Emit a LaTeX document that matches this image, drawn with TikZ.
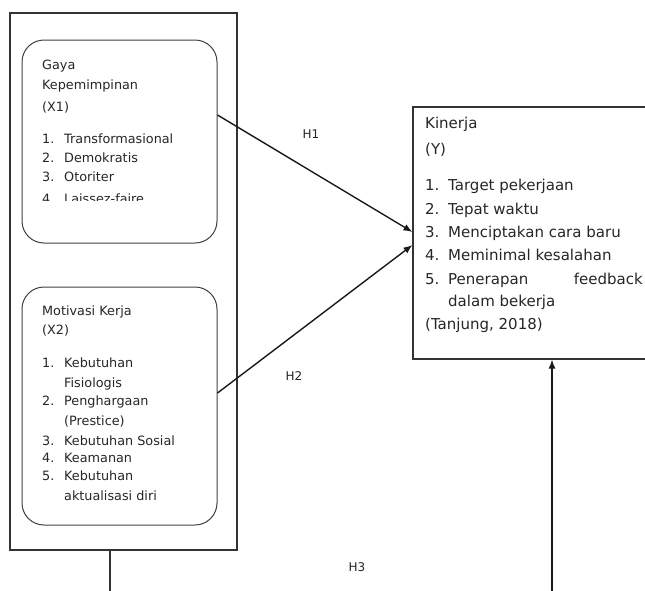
\documentclass[tikz,border=0pt]{standalone}
\usepackage{fontspec}
\setmainfont{DejaVu Sans}
\usetikzlibrary{arrows.meta,calc}
\begin{document}
\begin{tikzpicture}[x=1pt,y=-1pt,
  sbox/.style={draw=black!80,line width=1.1pt,inner sep=0pt},
  rbox/.style={draw=black!75,line width=1pt,rounded corners=22pt,inner sep=0pt},
  ltext/.style={anchor=mid west,inner sep=0pt,font=\fontsize{12.8}{15}\selectfont,text=black!85},
  rtext/.style={anchor=mid west,inner sep=0pt,font=\fontsize{15}{18}\selectfont,text=black!85},
  hlab/.style={inner sep=0pt,font=\fontsize{12}{14}\selectfont,text=black!85},
  conn/.style={line width=1.4pt,draw=black!90,-{Latex[length=9pt,width=7pt]}},
  plainline/.style={line width=1.1pt,draw=black!80}]
\clip (0,0) rectangle (645,590);
% boxes
\node[sbox,minimum width=227pt,minimum height=537pt] (outer) at (123.5,281.5) {};
\node[rbox,minimum width=195pt,minimum height=203pt] (b1) at (119.5,141.5) {};
\node[rbox,minimum width=195pt,minimum height=238pt] (b2) at (119.5,406) {};
\node[sbox,minimum width=257pt,minimum height=252pt] (kin) at (541.5,233) {};
% box 1 text
\node[ltext] (t11) at (42,67) {Gaya};
\node[ltext] (t12) at (42,87) {Kepemimpinan};
\node[ltext] (t13) at (42,109) {(X1)};
\node[ltext] (n11) at (42,141) {1.};
\node[ltext] (i11) at (64,141) {Transformasional};
\node[ltext] (n12) at (42,160) {2.};
\node[ltext] (i12) at (64,160) {Demokratis};
\node[ltext] (n13) at (42,179) {3.};
\node[ltext] (i13) at (64,179) {Otoriter};
\begin{scope}
\clip (30,185) rectangle (210,200);
\node[ltext] (n14) at (42,201) {4.};
\node[ltext] (i14) at (64,201) {Laissez-faire};
\end{scope}
% box 2 text
\node[ltext] (t21) at (42,313) {Motivasi Kerja};
\node[ltext] (t22) at (42,332) {(X2)};
\node[ltext] (n21) at (42,365) {1.};
\node[ltext] (i21) at (64,365) {Kebutuhan};
\node[ltext] (i21b) at (64,385) {Fisiologis};
\node[ltext] (n22) at (42,403) {2.};
\node[ltext] (i22) at (64,403) {Penghargaan};
\node[ltext] (i22b) at (64,423) {(Prestice)};
\node[ltext] (n23) at (42,443) {3.};
\node[ltext] (i23) at (64,443) {Kebutuhan Sosial};
\node[ltext] (n24) at (42,460) {4.};
\node[ltext] (i24) at (64,460) {Keamanan};
\node[ltext] (n25) at (42,478) {5.};
\node[ltext] (i25) at (64,478) {Kebutuhan};
\node[ltext] (i25b) at (64,498) {aktualisasi diri};
% Kinerja text
\node[rtext] (k1) at (425,126) {Kinerja};
\node[rtext] (k2) at (425,152) {(Y)};
\node[rtext] (kn1) at (425,188) {1.};
\node[rtext] (ki1) at (448,188) {Target pekerjaan};
\node[rtext] (kn2) at (425,212) {2.};
\node[rtext] (ki2) at (448,212) {Tepat waktu};
\node[rtext] (kn3) at (425,235) {3.};
\node[rtext] (ki3) at (448,235) {Menciptakan cara baru};
\node[rtext] (kn4) at (425,258) {4.};
\node[rtext] (ki4) at (448,258) {Meminimal kesalahan};
\node[rtext] (kn5) at (425,282) {5.};
\node[rtext] (ki5) at (448,282) {Penerapan};
\node[rtext,anchor=mid east] (ki5b) at (643,282) {feedback};
\node[rtext] (ki5c) at (448,304) {dalam bekerja};
\node[rtext] (k3) at (425,327) {(Tanjung, 2018)};
% labels
\node[hlab] (h1) at (311,134) {H1};
\node[hlab] (h2) at (294,376) {H2};
\node[hlab] (h3) at (357,567) {H3};
% connectors
\draw[conn] ([yshift=26.5pt]b1.east) -- ([yshift=1pt]kin.west);
\draw[conn] ([yshift=13pt]b2.east) -- ([yshift=-12pt]kin.west);
\coordinate (e1) at (110,595);
\draw[plainline] (outer.south -| e1) -- (e1);
\coordinate (e2) at (552,595);
\draw[conn] (e2) -- (kin.south -| e2);
\end{tikzpicture}
\end{document}
